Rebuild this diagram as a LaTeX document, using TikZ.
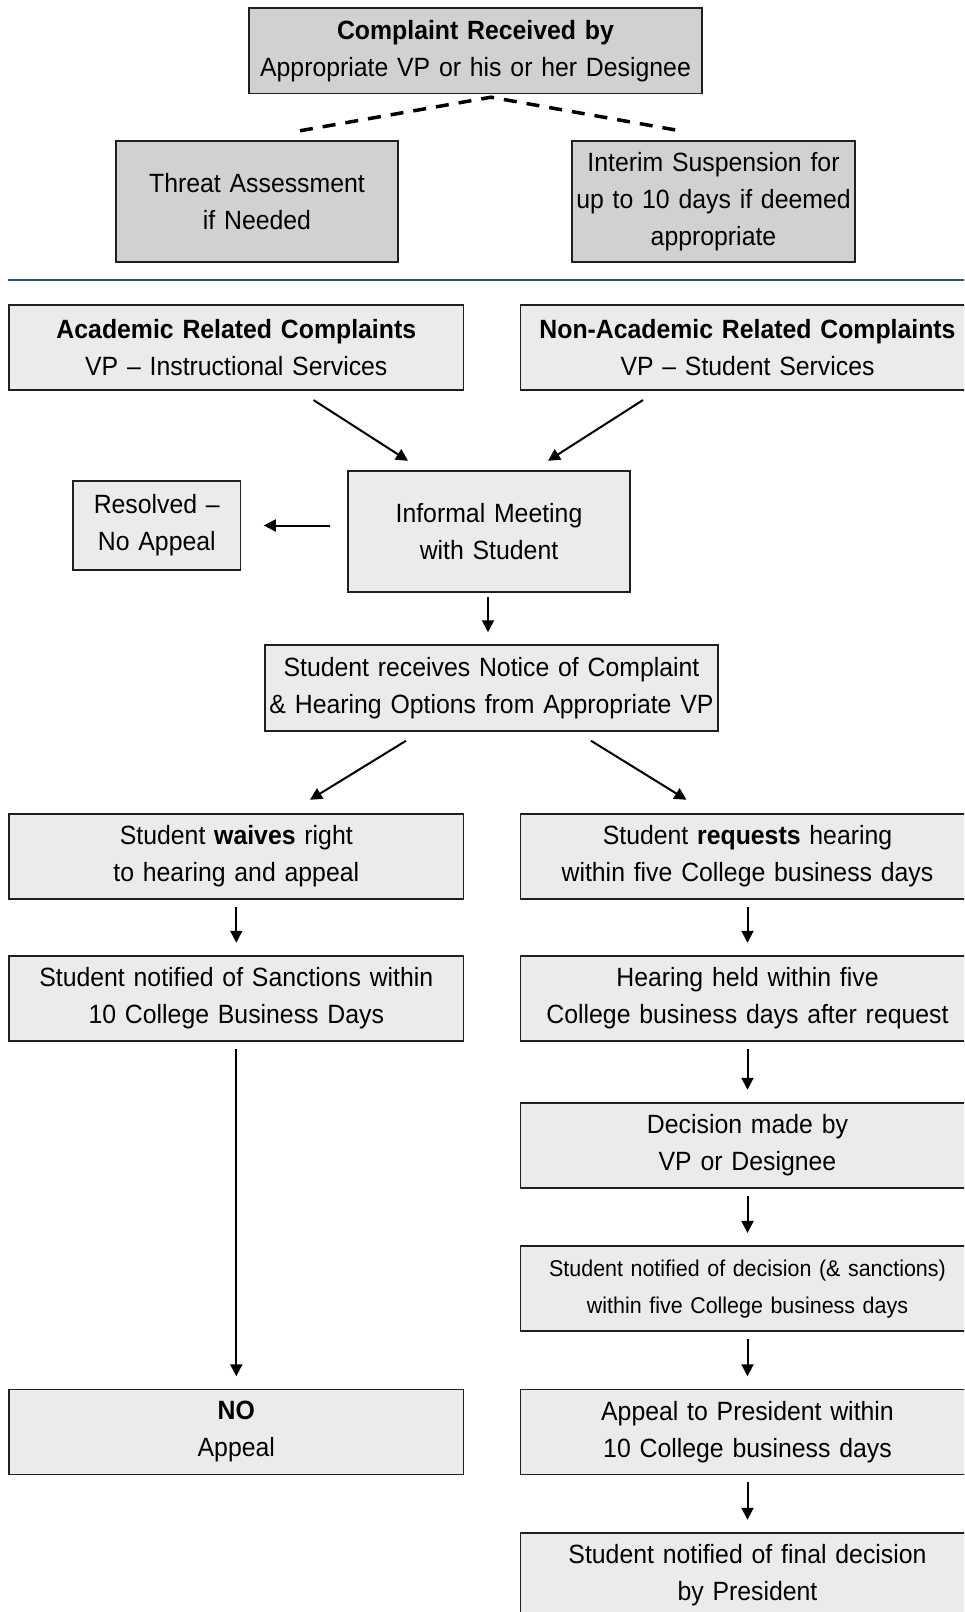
\documentclass[tikz,border=0pt]{standalone}
\usepackage{fontspec}
\setmainfont{Liberation Sans}[FakeStretch=0.94]
\usetikzlibrary{arrows.meta,positioning}
\definecolor{topfill}{HTML}{D1D1D3}
\definecolor{lowfill}{HTML}{EBEBEB}
\definecolor{edge}{HTML}{231F20}
\definecolor{rule}{HTML}{24557E}
\tikzset{
  box/.style={draw=edge, line width=1.5pt, inner sep=0pt, align=center,
    font=\fontsize{26.4}{37}\selectfont},
  darkbox/.style={box, fill=topfill},
  lightbox/.style={box, fill=lowfill},
  colbox/.style={lightbox, minimum width=454.5pt, minimum height=85pt, text width=452pt},
  arr/.style={line width=2pt, draw=black, -{Triangle[length=12pt,width=12pt]}},
  varr/.style={arr, shorten <=7pt, shorten >=12.5pt},
  dashline/.style={line width=3.5pt, dash pattern=on 13pt off 10pt}
}
\begin{document}
\begin{tikzpicture}[x=1pt,y=-1pt]
\clip (0,0) rectangle (964,1612);
\fill[white] (0,0) rectangle (964,1612);

% top section
\node[darkbox, minimum width=453pt, minimum height=85.5pt, text width=451pt] (top) at (475.5,50.7)
  {\textbf{Complaint Received by}\\Appropriate VP or his or her Designee};
\node[darkbox, minimum width=282pt, minimum height=121pt, text width=280pt] (threat) at (257,201.5)
  {Threat Assessment\\if Needed};
\node[darkbox, minimum width=283pt, minimum height=121pt, text width=281pt] (interim) at (713.5,201.5)
  {Interim Suspension for\\up to 10 days if deemed\\appropriate};

\coordinate (peak) at ([shift={(15.5,3)}]top.south);
\draw[dashline] ([shift={(43,-9.5)}]threat.north) -- (peak) -- ([shift={(-33.5,-9.5)}]interim.north);

\draw[rule, line width=2pt] (8,279.5) -- (964,279.5);

% lower section
\node[colbox] (acad) at (236.3,347.3)
  {\textbf{Academic Related Complaints}\\VP -- Instructional Services};
\node[colbox] (nonacad) at (747.5,347.3)
  {\textbf{Non-Academic Related Complaints}\\VP -- Student Services};
\node[lightbox, minimum width=282pt, minimum height=121.3pt, text width=280pt] (informal) at (489,531.4)
  {Informal Meeting\\with Student};
\node[lightbox, minimum width=167.5pt, minimum height=89pt, text width=165pt] (resolved) at (156.8,525.5)
  {Resolved --\\No Appeal};
\node[lightbox, minimum width=453pt, minimum height=86pt, text width=453pt] (notice) at (491.5,688)
  {Student receives Notice of Complaint\\\mbox{\& Hearing Options from Appropriate VP}};

\node[colbox] (waives) at (236.3,856.5) {Student \textbf{waives} right\\to hearing and appeal};
\node[colbox] (requests) at (747.5,856.5) {Student \textbf{requests} hearing\\within five College business days};
\node[colbox] (sanctions) at (236.3,998.5) {Student notified of Sanctions within\\10 College Business Days};
\node[colbox] (hearing) at (747.5,998.5) {Hearing held within five\\College business days after request};
\node[colbox] (decision) at (747.5,1145.5) {Decision made by\\VP or Designee};
\node[colbox, font=\fontsize{22.8}{37}\selectfont] (notified) at (747.5,1288.7)
  {Student notified of decision (\& sanctions)\\within five College business days};
\node[colbox] (noappeal) at (236.3,1432) {\textbf{NO}\\Appeal};
\node[colbox] (appealpres) at (747.5,1432) {Appeal to President within\\10 College business days};
\node[colbox] (final) at (747.5,1575.5) {Student notified of final decision\\by President};

% connectors
\draw[arr] ([shift={(77.2,9.5)}]acad.south) -- ([shift={(-81,-9.2)}]informal.north);
\draw[arr] ([shift={(-104.5,9.5)}]nonacad.south) -- ([shift={(59,-9.2)}]informal.north);
\draw[arr] ([xshift=-17pt]informal.west |- resolved.east) -- ([xshift=22.5pt]resolved.east);
\draw[arr] ([shift={(-1,4)}]informal.south) -- ([shift={(-3.5,-12)}]notice.north);
\draw[arr] ([shift={(-85.5,9)}]notice.south) -- ([shift={(73.7,-13.5)}]waives.north);
\draw[arr] ([shift={(99.5,9)}]notice.south) -- ([shift={(-61,-13.5)}]requests.north);

\draw[varr] (waives) -- (sanctions);
\draw[varr] (sanctions) -- (noappeal);
\draw[varr] (requests) -- (hearing);
\draw[varr] (hearing) -- (decision);
\draw[varr] (decision) -- (notified);
\draw[varr] (notified) -- (appealpres);
\draw[varr] (appealpres) -- (final);
\end{tikzpicture}
\end{document}
